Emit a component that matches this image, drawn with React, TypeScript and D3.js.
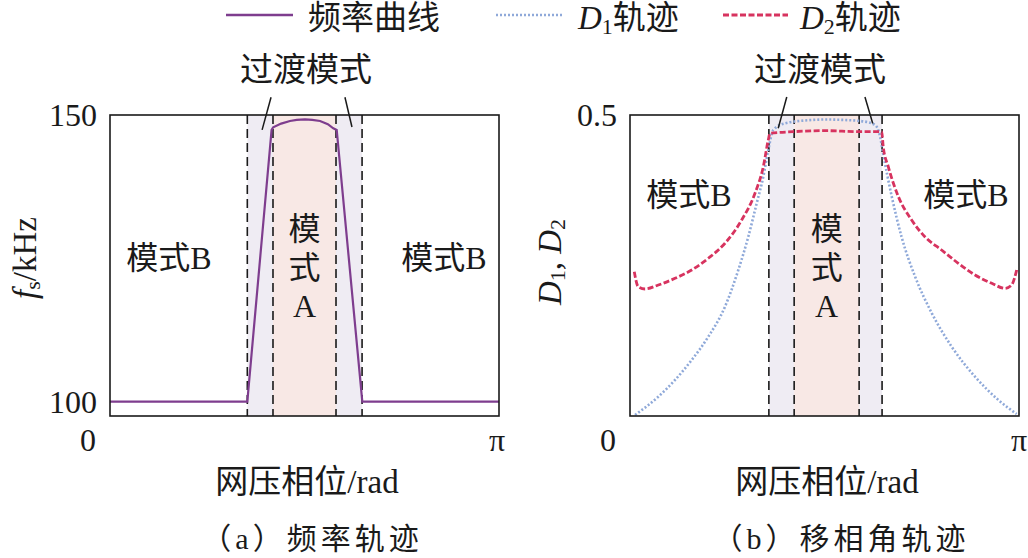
import * as d3 from 'd3'

// phase values are in units of π
const freqPhase = [0, 0.353, 0.4154, 0.4195, 0.44, 0.4627, 0.48, 0.5013, 0.52, 0.54, 0.56, 0.574, 0.5828, 0.6486, 1]
const freqKHz = [100, 100, 147.4, 147.86, 148.5, 148.95, 149.15, 149.25, 149.15, 148.95, 148.4, 147.68, 147.4, 100, 100]

const d1Phase = [0.0129, 0.0728, 0.1157, 0.1586, 0.2013, 0.2442, 0.2784, 0.3041, 0.3257, 0.3427, 0.3555, 0.3684, 0.3985, 0.467, 0.5, 0.553, 0.604, 0.63, 0.643, 0.649, 0.673, 0.698, 0.733, 0.776, 0.827, 0.887, 0.947, 0.994]
const d1Value = [0.0017, 0.0321, 0.0598, 0.093, 0.1317, 0.1816, 0.2425, 0.2978, 0.3533, 0.3975, 0.4419, 0.4751, 0.4862, 0.4917, 0.4925, 0.4917, 0.489, 0.4834, 0.464, 0.442, 0.3643, 0.2978, 0.2314, 0.1706, 0.1151, 0.0653, 0.0266, 0.0033]

const d2Phase = [0.011, 0.021, 0.0386, 0.0728, 0.1157, 0.1586, 0.2013, 0.2442, 0.2871, 0.3213, 0.3427, 0.3555, 0.36, 0.42, 0.5, 0.59, 0.647, 0.651, 0.664, 0.69, 0.724, 0.758, 0.801, 0.844, 0.887, 0.93, 0.964, 0.981, 0.994]
const d2Value = [0.2397, 0.2148, 0.211, 0.2176, 0.2287, 0.2425, 0.262, 0.2869, 0.3256, 0.3699, 0.4141, 0.4585, 0.4696, 0.4723, 0.474, 0.4723, 0.4723, 0.4473, 0.4141, 0.3643, 0.3256, 0.2978, 0.2757, 0.2536, 0.2342, 0.2204, 0.2121, 0.2176, 0.2425]

// mode boundaries (units of π): transition | mode A | transition
const boundsA = [0.353, 0.419, 0.581, 0.648]
const boundsB = [0.357, 0.422, 0.589, 0.648]

const freqTicks = [100, 150]
const dutyTicks = [0.5]

const PURPLE = '#7e3d8e'
const BLUE = '#8fa9d9'
const RED = '#d7335f'
const TRANS_FILL = '#efecf3'
const MODEA_FILL = '#f8e8e5'
const INK = '#1a1a1a'
const FONT = '"Liberation Serif", "Noto Sans CJK SC", serif'
const RED_DASH = '6,2.5'
const BLUE_DOT = '2,2'

const top = 115
const bottom = 416

type Pt = [number, number]

const Regions = ({ x, b }) => (
    <g>
        <rect x={x(b[0])} y={top} width={x(b[1]) - x(b[0])} height={bottom - top} fill={TRANS_FILL} />
        <rect x={x(b[1])} y={top} width={x(b[2]) - x(b[1])} height={bottom - top} fill={MODEA_FILL} />
        <rect x={x(b[2])} y={top} width={x(b[3]) - x(b[2])} height={bottom - top} fill={TRANS_FILL} />
    </g>
)

const Dashes = ({ x, b }) => (
    <g>
        {b.map((v, i) => (
            <line key={i} x1={x(v)} x2={x(v)} y1={top} y2={bottom} stroke={INK} strokeWidth={1.6} strokeDasharray="9,5" />
        ))}
    </g>
)

const ModeA = ({ cx }) => (
    <g fontSize={32} textAnchor="middle" dominantBaseline="central" fill={INK}>
        <text x={cx} y={229}>模</text>
        <text x={cx} y={268}>式</text>
        <text x={cx} y={306}>A</text>
    </g>
)

const Pointers = ({ x, y, lines }) => (
    <g>
        {lines.map((l, i) => (
            <line key={i} x1={x(l[0][0])} y1={y(l[0][1])} x2={x(l[1][0])} y2={y(l[1][1])} stroke={INK} strokeWidth={1.5} />
        ))}
    </g>
)

const App = () => {
    const xL = d3.scaleLinear().domain([0, 1]).range([110, 499])
    const yL = d3.scaleLinear().domain([97.5, 150]).range([bottom, top])
    const xR = d3.scaleLinear().domain([0, 1]).range([630, 1019])
    const yR = d3.scaleLinear().domain([0, 0.5]).range([bottom, top])

    const freqLine = d3.line<number>()
        .x((_, i) => xL(freqPhase[i]))
        .y(d => yL(d))
        .curve(d3.curveLinear)

    const lineR = (phase: number[]) => d3.line<number>()
        .x((_, i) => xR(phase[i]))
        .y(d => yR(d))
        .curve(d3.curveMonotoneX)

    const pointersL: Pt[][] = [[[0.414, 153.1], [0.391, 147.4]], [[0.604, 153.1], [0.622, 147.9]]]
    const pointersR: Pt[][] = [[[0.403, 0.53], [0.381, 0.478]], [[0.604, 0.53], [0.624, 0.486]]]

    return (
        <div style={{ position: 'absolute', left: 0, top: 0 }}>
            <svg width={1028} height={558} style={{ display: 'block', background: '#fff' }} fontFamily={FONT}>
                {/* legend */}
                <line x1={226} x2={293} y1={15} y2={15} stroke={PURPLE} strokeWidth={2.5} />
                <text x={308} y={18} fontSize={33} dominantBaseline="central" fill={INK}>频率曲线</text>
                <line x1={496} x2={563} y1={15} y2={15} stroke={BLUE} strokeWidth={2.6} strokeDasharray={BLUE_DOT} />
                <text x={578} y={18} fontSize={33} dominantBaseline="central" fill={INK}>
                    <tspan fontStyle="italic">D</tspan>
                    <tspan fontSize={22} dy={8}>1</tspan>
                    <tspan dy={-8}>轨迹</tspan>
                </text>
                <line x1={723} x2={788} y1={15} y2={15} stroke={RED} strokeWidth={2.8} strokeDasharray={RED_DASH} />
                <text x={800} y={18} fontSize={33} dominantBaseline="central" fill={INK}>
                    <tspan fontStyle="italic">D</tspan>
                    <tspan fontSize={22} dy={8}>2</tspan>
                    <tspan dy={-8}>轨迹</tspan>
                </text>

                {/* panel (a) */}
                <Regions x={xL} b={boundsA} />
                <Dashes x={xL} b={boundsA} />
                <path d={freqLine(freqKHz) ?? ''} fill="none" stroke={PURPLE} strokeWidth={2.2} />
                <rect x={110} y={top} width={389} height={bottom - top} fill="none" stroke={INK} strokeWidth={1.6} />
                <Pointers x={xL} y={yL} lines={pointersL} />
                <text x={306} y={70} fontSize={33} textAnchor="middle" dominantBaseline="central" fill={INK}>过渡模式</text>
                <g fontSize={32} textAnchor="end" dominantBaseline="central" fill={INK}>
                    {freqTicks.map(t => (
                        <text key={t} x={97} y={yL(t)}>{t}</text>
                    ))}
                </g>
                <g fontSize={32} textAnchor="middle" dominantBaseline="central" fill={INK}>
                    <text x={xL(0) - 22} y={440}>0</text>
                    <text x={xL(1) - 2} y={440}>π</text>
                </g>
                <g fontSize={32} textAnchor="middle" dominantBaseline="central" fill={INK}>
                    <text x={169} y={258}>模式B</text>
                    <text x={444} y={258}>模式B</text>
                </g>
                <ModeA cx={xL((boundsA[1] + boundsA[2]) / 2)} />
                <text x={307} y={482} fontSize={33} textAnchor="middle" dominantBaseline="central" fill={INK}>网压相位/rad</text>
                <text transform="translate(25,258) rotate(-90)" fontSize={33} textAnchor="middle" dominantBaseline="central" fill={INK}>
                    <tspan fontStyle="italic">f</tspan>
                    <tspan fontSize={22} dy={7}>s</tspan>
                    <tspan dy={-7}>/kHz</tspan>
                </text>
                <text x={312} y={538} fontSize={30} textAnchor="middle" dominantBaseline="central" fill={INK} letterSpacing={4}>（a）频率轨迹</text>

                {/* panel (b) */}
                <Regions x={xR} b={boundsB} />
                <Dashes x={xR} b={boundsB} />
                <path d={lineR(d1Phase)(d1Value) ?? ''} fill="none" stroke={BLUE} strokeWidth={2.6} strokeDasharray={BLUE_DOT} />
                <path d={lineR(d2Phase)(d2Value) ?? ''} fill="none" stroke={RED} strokeWidth={2.8} strokeDasharray={RED_DASH} />
                <rect x={630} y={top} width={389} height={bottom - top} fill="none" stroke={INK} strokeWidth={1.6} />
                <Pointers x={xR} y={yR} lines={pointersR} />
                <text x={820} y={70} fontSize={33} textAnchor="middle" dominantBaseline="central" fill={INK}>过渡模式</text>
                <g fontSize={32} textAnchor="end" dominantBaseline="central" fill={INK}>
                    {dutyTicks.map(t => (
                        <text key={t} x={617} y={yR(t)}>{t}</text>
                    ))}
                </g>
                <g fontSize={32} textAnchor="middle" dominantBaseline="central" fill={INK}>
                    <text x={xR(0) - 22} y={440}>0</text>
                    <text x={xR(1)} y={440}>π</text>
                </g>
                <g fontSize={32} textAnchor="middle" dominantBaseline="central" fill={INK}>
                    <text x={689} y={195}>模式B</text>
                    <text x={966} y={195}>模式B</text>
                </g>
                <ModeA cx={xR((boundsB[1] + boundsB[2]) / 2)} />
                <text x={827} y={482} fontSize={33} textAnchor="middle" dominantBaseline="central" fill={INK}>网压相位/rad</text>
                <text transform="translate(550,262) rotate(-90)" fontSize={33} textAnchor="middle" dominantBaseline="central" fill={INK}>
                    <tspan fontStyle="italic">D</tspan>
                    <tspan fontSize={22} dy={7}>1</tspan>
                    <tspan dy={-7}>, </tspan>
                    <tspan fontStyle="italic">D</tspan>
                    <tspan fontSize={22} dy={7}>2</tspan>
                </text>
                <text x={841} y={538} fontSize={30} textAnchor="middle" dominantBaseline="central" fill={INK} letterSpacing={4}>（b）移相角轨迹</text>
            </svg>
        </div>
    )
}

export default App
